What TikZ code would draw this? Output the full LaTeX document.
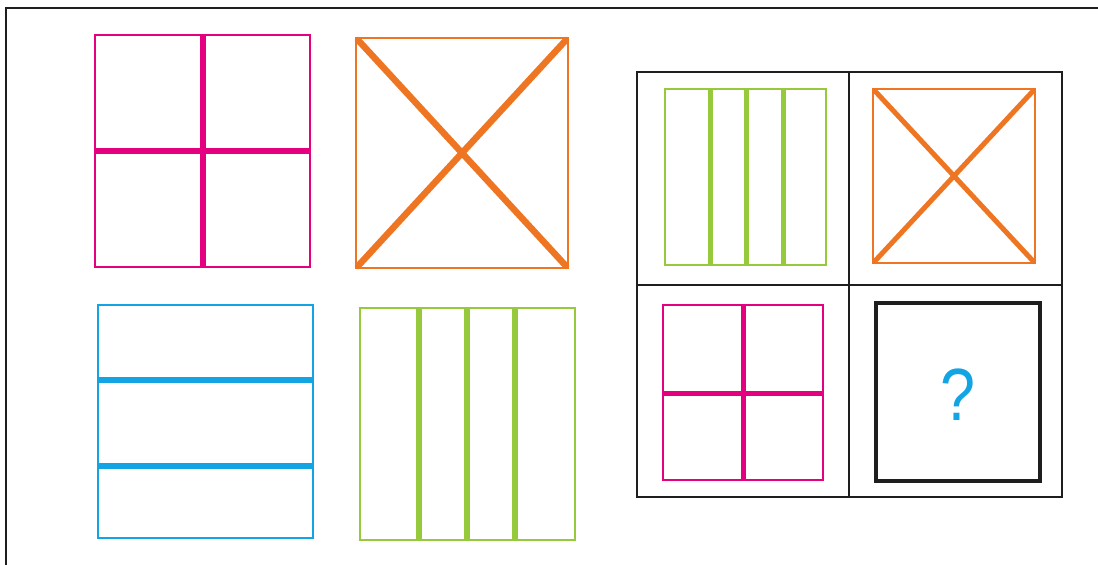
\documentclass[tikz,border=0pt]{standalone}
\usepackage{fontspec}
\setmainfont{Liberation Sans}
\usepackage{xcolor}
\usetikzlibrary{calc}
\definecolor{pzmagenta}{HTML}{E4007F}
\definecolor{pzorange}{HTML}{EE7623}
\definecolor{pzcyan}{HTML}{13A4E3}
\definecolor{pzgreen}{HTML}{97C93D}
\definecolor{pzframe}{HTML}{1E1E1E}

\begin{document}
\begin{tikzpicture}[x=1pt, y=-1pt,
    outline/.style={line width=1.8pt},
    bar/.style={line width=6.5pt},
    diag/.style={line width=6.5pt, line cap=round},
    smallbar/.style={line width=5pt},
    gridline/.style={pzframe, line width=2.6pt}]

      \useasboundingbox (0,0) rectangle (1098,565);

      % outer frame (only top and left edges fall inside the page)
      \draw[pzframe, line width=2.8pt] (6,565) -- (6,8) -- (1098,8);

      % left block: plus
      \draw[pzmagenta, outline] (95,35) rectangle (310,267);
      \draw[pzmagenta, bar] (203,35) -- (203,267);
      \draw[pzmagenta, bar] (95,151) -- (310,151);

      % left block: cross
      \draw[pzorange, outline] (356,38) rectangle (568,268);
      \draw[pzorange, diag] (358,40) -- (566,266);
      \draw[pzorange, diag] (566,40) -- (358,266);

      % left block: two bars
      \draw[pzcyan, outline] (98,305) rectangle (313,538);
      \foreach \yy in {380,466}{
        \draw[pzcyan, bar] (98,\yy) -- (313,\yy);
      }

      % left block: three bars
      \draw[pzgreen, outline] (360,308) rectangle (575,540);
      \foreach \xx in {419,467,515}{
        \draw[pzgreen, bar] (\xx,308) -- (\xx,540);
      }

      % right grid
      \draw[gridline] (637,72) rectangle (1062,497);
      \draw[gridline] (849,72) -- (849,497);
      \draw[gridline] (637,285) -- (1062,285);

      \draw[pzgreen, line width=1.4pt] (665,89) rectangle (826,265);
      \foreach \xx in {710,746,783}{
        \draw[pzgreen, smallbar] (\xx,89) -- (\xx,265);
      }

      \draw[pzorange, line width=1.4pt] (873,89) rectangle (1035,263);
      \draw[pzorange, line width=5pt, line cap=round] (875,91) -- (1033,261);
      \draw[pzorange, line width=5pt, line cap=round] (1033,91) -- (875,261);

      \draw[pzmagenta, line width=1.4pt] (663,305) rectangle (823,480);
      \draw[pzmagenta, smallbar] (743,305) -- (743,480);
      \draw[pzmagenta, smallbar] (663,393) -- (823,393);

      \draw[pzframe, line width=3.2pt] (876,303) rectangle (1040,481);
      \node[pzcyan, font=\fontsize{74}{74}\selectfont, xscale=0.85] (ask) at (958,395) {?};

    \end{tikzpicture}
\end{document}
